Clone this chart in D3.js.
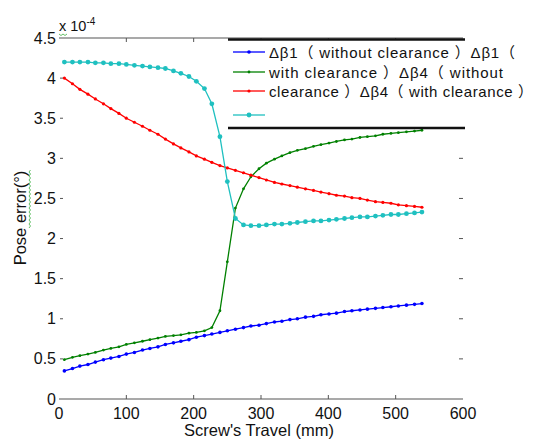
<!DOCTYPE html>
<html>
<head>
<meta charset="utf-8">
<script src="https://cdn.jsdelivr.net/npm/d3@7"></script>
<style>
  body { margin: 0; background: #fff; }
  text { font-family: "Liberation Sans", Arial, sans-serif; fill: #111; }
</style>
</head>
<body>
<svg width="533" height="439"></svg>
<script>
// screw travel (mm)
const travel = [8, 20, 31, 43, 54, 66, 77, 89, 100, 112, 124, 135, 147, 158, 170, 181, 193, 204, 216, 227,
  239, 250, 262, 274, 285, 297, 308, 320, 331, 343, 354, 366, 378, 389, 401, 412, 424, 435, 447, 458,
  470, 481, 493, 504, 516, 528, 539]

// pose error, x 1e-4
const b1NoClear = [0.35, 0.38, 0.41, 0.43, 0.46, 0.49, 0.51, 0.53, 0.56, 0.58, 0.61, 0.63, 0.65, 0.68, 0.70, 0.72,
  0.74, 0.77, 0.79, 0.81, 0.83, 0.85, 0.87, 0.89, 0.91, 0.92, 0.94, 0.96, 0.97, 0.99, 1.00, 1.02, 1.03, 1.05,
  1.06, 1.07, 1.09, 1.10, 1.11, 1.12, 1.13, 1.14, 1.15, 1.16, 1.17, 1.18, 1.19]
const b1Clear = [0.49, 0.52, 0.54, 0.56, 0.58, 0.61, 0.63, 0.65, 0.68, 0.70, 0.72, 0.74, 0.76, 0.78, 0.79, 0.80,
  0.82, 0.83, 0.85, 0.89, 1.10, 1.71, 2.38, 2.62, 2.77, 2.87, 2.94, 2.99, 3.03, 3.07, 3.10, 3.12, 3.15, 3.17,
  3.19, 3.21, 3.23, 3.24, 3.26, 3.27, 3.28, 3.30, 3.31, 3.32, 3.33, 3.34, 3.35]
const b4NoClear = [4.00, 3.93, 3.86, 3.80, 3.74, 3.68, 3.62, 3.56, 3.50, 3.45, 3.40, 3.35, 3.30, 3.24, 3.18, 3.13,
  3.08, 3.03, 2.99, 2.95, 2.91, 2.88, 2.85, 2.82, 2.79, 2.76, 2.73, 2.70, 2.68, 2.66, 2.64, 2.62, 2.60, 2.58,
  2.56, 2.54, 2.53, 2.51, 2.50, 2.48, 2.46, 2.45, 2.44, 2.42, 2.41, 2.40, 2.39]
const b4Clear = [4.20, 4.20, 4.20, 4.20, 4.19, 4.19, 4.18, 4.18, 4.17, 4.16, 4.15, 4.14, 4.13, 4.12, 4.09, 4.06,
  4.02, 3.96, 3.87, 3.68, 3.27, 2.71, 2.25, 2.17, 2.16, 2.16, 2.17, 2.18, 2.18, 2.19, 2.20, 2.21, 2.22, 2.22,
  2.23, 2.24, 2.25, 2.26, 2.27, 2.27, 2.28, 2.29, 2.30, 2.30, 2.31, 2.32, 2.33]

const xTicks = [0, 100, 200, 300, 400, 500, 600]
const yTicks = [0, 0.5, 1, 1.5, 2, 2.5, 3, 3.5, 4, 4.5]
const legendText = ["Δβ1（ without clearance ）Δβ1（", "with clearance ）Δβ4（ without", "clearance ）Δβ4（ with clearance ）"]
const legendWidth = [246, 234, 264]

const series = [
  {vals: b1NoClear, color: "#0000ff", r: 1.8},
  {vals: b1Clear, color: "#008000", r: 1.4},
  {vals: b4NoClear, color: "#ff0000", r: 1.6},
  {vals: b4Clear, color: "#1fc0c0", r: 2.4}
]

const svg = d3.select("svg")
const x = d3.scaleLinear().domain([0, 600]).range([59, 463])
const y = d3.scaleLinear().domain([0, 4.5]).range([399, 38])

// box: top + bottom lines only
svg.append("line").attr("x1", 59).attr("x2", 463).attr("y1", 399).attr("y2", 399).attr("stroke", "#555").attr("stroke-width", 1.2)
svg.append("line").attr("x1", 59).attr("x2", 463).attr("y1", 38).attr("y2", 38).attr("stroke", "#555").attr("stroke-width", 1.2)

// ticks
xTicks.slice(1, -1).forEach(t => {
  svg.append("line").attr("x1", x(t)).attr("x2", x(t)).attr("y1", 399).attr("y2", 395).attr("stroke", "#555")
  svg.append("line").attr("x1", x(t)).attr("x2", x(t)).attr("y1", 38).attr("y2", 42).attr("stroke", "#555")
})
yTicks.slice(1, -1).forEach(t => {
  svg.append("line").attr("x1", 60).attr("x2", 63).attr("y1", y(t)).attr("y2", y(t)).attr("stroke", "#555")
  svg.append("line").attr("x1", 459).attr("x2", 463).attr("y1", y(t)).attr("y2", y(t)).attr("stroke", "#555")
})

svg.selectAll(".xl").data(xTicks).enter().append("text")
  .attr("x", d => x(d)).attr("y", 419).attr("text-anchor", "middle")
  .style("font-size", "16px").text(d => d)
svg.selectAll(".yl").data(yTicks).enter().append("text")
  .attr("x", 56).attr("y", d => y(d) + 5.5).attr("text-anchor", "end")
  .style("font-size", "16px").text(d => d)

svg.append("text").attr("x", 259).attr("y", 436).attr("text-anchor", "middle")
  .style("font-size", "16.5px").text("Screw's Travel (mm)")
svg.append("text").attr("transform", "translate(26,218) rotate(-90)").attr("text-anchor", "middle")
  .style("font-size", "16.5px").text("Pose error(°)")

const exp = svg.append("text").attr("x", 59).attr("y", 31).style("font-size", "14.5px")
exp.append("tspan").text("x 10")
exp.append("tspan").attr("dy", -6).style("font-size", "10px").text("-4")

// green spell-check squiggles
const wave = (x0, y0, len, vertical) => {
  let p = `M${x0},${y0}`
  for (let i = 1; i <= len / 2; i++) {
    const o = i % 2 ? 1.5 : 0
    p += vertical ? ` L${x0 + o},${y0 - i * 2}` : ` L${x0 + i * 2},${y0 + o}`
  }
  return p
}
svg.append("path").attr("d", wave(59, 34, 8, false)).attr("fill", "none").attr("stroke", "#3cb043").attr("stroke-width", 0.8)
svg.append("path").attr("d", wave(29, 228, 58, true)).attr("fill", "none").attr("stroke", "#3cb043").attr("stroke-width", 0.8)

// curves
const line = d3.line().x((d, i) => x(travel[i])).y(d => y(d))
series.forEach(s => {
  svg.append("path").attr("d", line(s.vals)).attr("fill", "none").attr("stroke", s.color).attr("stroke-width", 1.3)
  svg.selectAll(null).data(s.vals).enter().append("circle")
    .attr("cx", (d, i) => x(travel[i])).attr("cy", d => y(d)).attr("r", s.r).attr("fill", s.color)
})

// legend
const lg = svg.append("g")
lg.append("rect").attr("x", 228).attr("y", 39).attr("width", 237).attr("height", 89).attr("fill", "#fff")
lg.append("line").attr("x1", 228).attr("x2", 465).attr("y1", 39.5).attr("y2", 39.5).attr("stroke", "#111").attr("stroke-width", 2.5)
lg.append("line").attr("x1", 228).attr("x2", 465).attr("y1", 128).attr("y2", 128).attr("stroke", "#111").attr("stroke-width", 2.5)
const lgY = [52, 72, 91, 115]
series.forEach((s, i) => {
  lg.append("line").attr("x1", 233).attr("x2", 265).attr("y1", lgY[i]).attr("y2", lgY[i]).attr("stroke", s.color).attr("stroke-width", 1.3)
  lg.append("circle").attr("cx", 249).attr("cy", lgY[i]).attr("r", s.r).attr("fill", s.color)
})
legendText.forEach((t, i) => {
  lg.append("text").attr("x", 269).attr("y", lgY[i] + 5.5).style("font-size", "15px")
    .attr("textLength", legendWidth[i]).attr("lengthAdjust", "spacing")
    .style("font-family", "'Liberation Sans', 'Noto Sans CJK SC', sans-serif").text(t)
})
</script>
</body>
</html>
